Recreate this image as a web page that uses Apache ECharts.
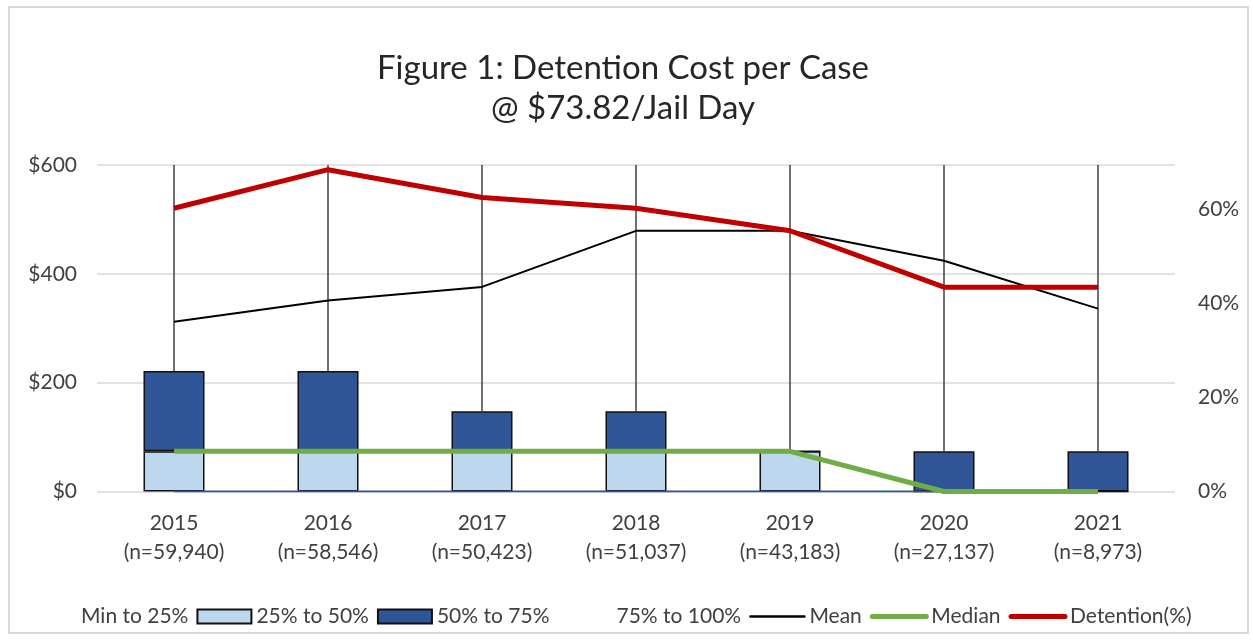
<!DOCTYPE html>
<html>
<head>
<meta charset="utf-8">
<script src="https://cdn.jsdelivr.net/npm/echarts@6/dist/echarts.min.js"></script>
<style>
  html, body { margin: 0; padding: 0; background: #fff; }
  #chart { width: 1253px; height: 641px; }
</style>
</head>
<body>
<div id="chart"></div>
<script>
// categories + sample sizes
const years = ['2015', '2016', '2017', '2018', '2019', '2020', '2021'];
const caseCounts = ['59,940', '58,546', '50,423', '51,037', '43,183', '27,137', '8,973'];

// box pieces, stacked ($, one jail day = 73.82)
const minTo25   = [0, 0, 0, 0, 0, 0, 0];
const p25to50   = [73.82, 73.82, 73.82, 73.82, 73.82, 0, 0];
const p50to75   = [147.64, 147.64, 73.82, 73.82, 0, 73.82, 73.82];
const p75to100  = [378.54, 378.54, 452.36, 452.36, 526.18, 526.18, 526.18]; // whisker runs past the $600 top

const meanCost   = [312, 351, 376, 479, 479, 424, 336];
const medianCost = [73.82, 73.82, 73.82, 73.82, 73.82, 0, 0];
const detention  = [0.603, 0.685, 0.626, 0.603, 0.555, 0.435, 0.435];

const costTicks = [0, 200, 400, 600];
const pctTicks  = [0, 0.2, 0.4, 0.6];

const FONT = 'Lato';
const TXT = '#404040';

const chart = echarts.init(document.getElementById('chart'), null, { renderer: 'canvas' });

const whiskerData = years.map((_, i) => {
  const q3 = minTo25[i] + p25to50[i] + p50to75[i];
  return [i, q3, q3 + p75to100[i]];
});

// line legend entries: keep the line, hide the marker dot
const lineLegend = (name, width) => ({ name, itemStyle: { opacity: 0 }, lineStyle: { width, cap: 'round' } });

chart.setOption({
  animation: false,
  textStyle: { fontFamily: FONT },
  graphic: [{
    type: 'rect', left: 8, top: 6, z: -1,
    shape: { width: 1239, height: 626 },
    style: { fill: '#fff', stroke: '#d9d9d9', lineWidth: 2 }
  }],
  title: {
    text: 'Figure 1: Detention Cost per Case\n@ $73.82/Jail Day',
    left: 618, top: 43, textAlign: 'center',
    textStyle: { fontFamily: FONT, fontSize: 33, fontWeight: 'normal', color: '#262626', lineHeight: 40 }
  },
  grid: { left: 97, right: 78, top: 165, bottom: 149.5, containLabel: false },
  legend: {
    left: 17, top: 601,
    itemWidth: 54, itemHeight: 14, itemGap: 8,
    textStyle: { fontFamily: FONT, fontSize: 21, color: TXT },
    data: [
      { name: 'Min to 25%', icon: 'none' },
      { name: '25% to 50%', icon: 'rect' },
      { name: '50% to 75%', icon: 'rect' },
      { name: '75% to 100%', icon: 'none' },
      lineLegend('Mean', 2.5), lineLegend('Median', 5), lineLegend('Detention(%)', 5)
    ]
  },
  xAxis: {
    type: 'category',
    data: years,
    axisLine: { show: false },
    axisTick: { show: false },
    axisLabel: {
      margin: 17, fontSize: 21, color: TXT, lineHeight: 29,
      formatter: (v, i) => v + '\n(n=' + caseCounts[i] + ')'
    }
  },
  yAxis: [{
    type: 'value', min: costTicks[0], max: costTicks[costTicks.length - 1], interval: 200,
    axisLabel: { fontSize: 21, color: TXT, margin: 20, formatter: v => '$' + v },
    axisLine: { show: false }, axisTick: { show: false },
    splitLine: { lineStyle: { color: '#d9d9d9', width: 1.5 } }
  }, {
    type: 'value', min: pctTicks[0], max: 0.695, interval: 0.2,
    axisLabel: {
      fontSize: 21, color: TXT, margin: 23, showMaxLabel: false,
      formatter: v => v > pctTicks[pctTicks.length - 1] + 0.01 ? '' : Math.round(v * 100) + '%'
    },
    axisLine: { show: false }, axisTick: { show: false },
    splitLine: { show: false }
  }],
  series: [
    {
      name: '25% to 50%', type: 'bar', stack: 'box', barWidth: 61, data: p25to50, z: 2,
      itemStyle: { color: '#bdd7ee', borderColor: '#111', borderWidth: 1.5 }
    },
    {
      name: '50% to 75%', type: 'bar', stack: 'box', barWidth: 61, data: p50to75, z: 2,
      itemStyle: { color: '#2f5597', borderColor: '#111', borderWidth: 1.5 }
    },
    {
      name: '75% to 100%', type: 'custom', data: whiskerData, z: 3, clip: true,
      encode: { x: 0, y: [1, 2] },
      itemStyle: { color: '#404040' },
      renderItem: (params, api) => {
        const a = api.coord([api.value(0), api.value(1)]);
        const b = api.coord([api.value(0), api.value(2)]);
        return {
          type: 'line',
          shape: { x1: a[0], y1: a[1], x2: b[0], y2: b[1] },
          style: { stroke: '#404040', lineWidth: 1.5 }
        };
      }
    },
    {
      name: 'Min to 25%', type: 'line', data: minTo25, symbol: 'none', z: 4,
      lineStyle: { color: '#2f5597', width: 2 }, itemStyle: { color: '#2f5597' }
    },
    {
      name: 'Mean', type: 'line', data: meanCost, symbol: 'none', z: 5,
      lineStyle: { color: '#000', width: 2 }, itemStyle: { color: '#000' }
    },
    {
      name: 'Median', type: 'line', data: medianCost, symbol: 'none', z: 5,
      lineStyle: { color: '#70ad47', width: 5 }, itemStyle: { color: '#70ad47' }
    },
    {
      name: 'Detention(%)', type: 'line', yAxisIndex: 1, data: detention, symbol: 'none', z: 6,
      lineStyle: { color: '#c00000', width: 5 }, itemStyle: { color: '#c00000' }
    }
  ]
});
</script>
</body>
</html>
